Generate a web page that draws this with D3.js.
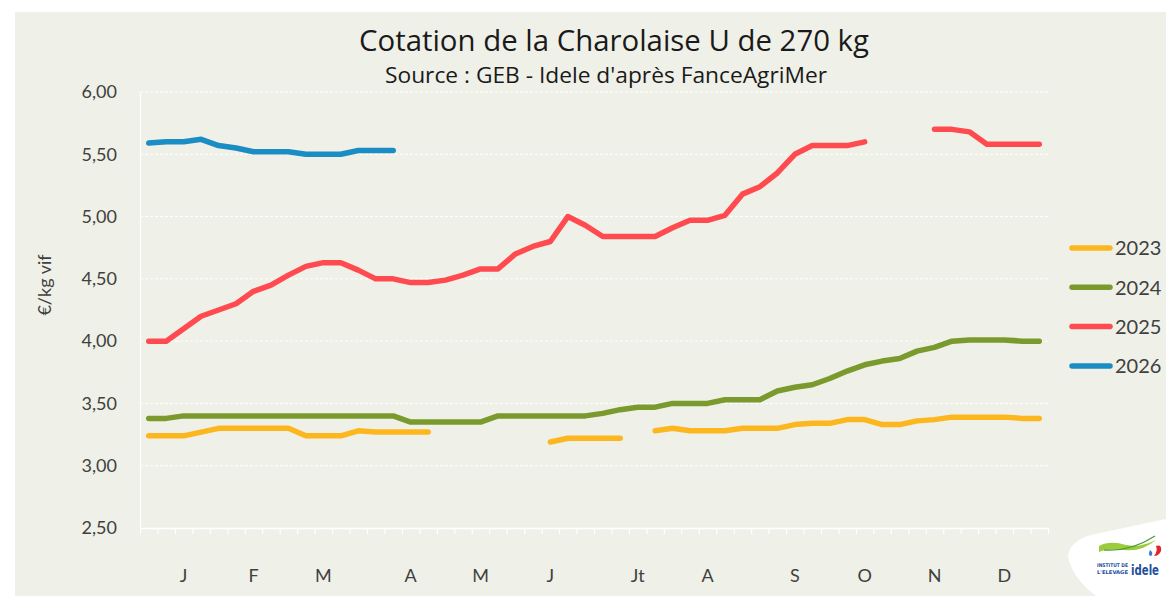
<!DOCTYPE html>
<html>
<head>
<meta charset="utf-8">
<script src="https://cdn.jsdelivr.net/npm/d3@7"></script>
<style>
  body { margin: 0; background: #fff; }
  svg { display: block; }
  .axis text { font-family: Lato, "Noto Sans", sans-serif; fill: #404040; }
</style>
</head>
<body>
<svg id="chart" width="1166" height="596"></svg>
<script>
// semaines 1 a 52
var weeks = d3.range(1, 53);

// libelles des mois, places sur une semaine
var monthWeeks = [3, 7, 11, 16, 20, 24, 29, 33, 38, 42, 46, 50];
var monthNames = ["J", "F", "M", "A", "M", "J", "Jt", "A", "S", "O", "N", "D"];

var yTicks = [2.5, 3, 3.5, 4, 4.5, 5, 5.5, 6];

var years = ["2023", "2024", "2025", "2026"];
var colors = ["#fdb71e", "#7b9a2d", "#ff4b50", "#1a8dc4"];

// cotations en euros/kg vif (null = pas de cotation)
var data2023 = [3.24, 3.24, 3.24, 3.27, 3.30, 3.30, 3.30, 3.30, 3.30, 3.24,
    3.24, 3.24, 3.28, 3.27, 3.27, 3.27, 3.27, null, null, null,
    null, null, null, 3.19, 3.22, 3.22, 3.22, 3.22, null, 3.28,
    3.30, 3.28, 3.28, 3.28, 3.30, 3.30, 3.30, 3.33, 3.34, 3.34,
    3.37, 3.37, 3.33, 3.33, 3.36, 3.37, 3.39, 3.39, 3.39, 3.39,
    3.38, 3.38];

var data2024 = [3.38, 3.38, 3.40, 3.40, 3.40, 3.40, 3.40, 3.40, 3.40, 3.40,
    3.40, 3.40, 3.40, 3.40, 3.40, 3.35, 3.35, 3.35, 3.35, 3.35,
    3.40, 3.40, 3.40, 3.40, 3.40, 3.40, 3.42, 3.45, 3.47, 3.47,
    3.50, 3.50, 3.50, 3.53, 3.53, 3.53, 3.60, 3.63, 3.65, 3.70,
    3.76, 3.81, 3.84, 3.86, 3.92, 3.95, 4.00, 4.01, 4.01, 4.01,
    4.00, 4.00];

var data2025 = [4.00, 4.00, 4.10, 4.20, 4.25, 4.30, 4.40, 4.45, 4.53, 4.60,
    4.63, 4.63, 4.57, 4.50, 4.50, 4.47, 4.47, 4.49, 4.53, 4.58,
    4.58, 4.70, 4.76, 4.80, 5.00, 4.93, 4.84, 4.84, 4.84, 4.84,
    4.91, 4.97, 4.97, 5.01, 5.18, 5.24, 5.35, 5.50, 5.57, 5.57,
    5.57, 5.60, null, null, null, 5.70, 5.70, 5.68, 5.58, 5.58,
    5.58, 5.58];

var data2026 = [5.59, 5.60, 5.60, 5.62, 5.57, 5.55, 5.52, 5.52, 5.52, 5.50,
    5.50, 5.50, 5.53, 5.53, 5.53];

var series = [data2023, data2024, data2025, data2026];

var margin = { top: 92, right: 118, bottom: 68, left: 140 };
var W = 1166, H = 596;
var width = W - margin.left - margin.right,
    height = H - margin.top - margin.bottom;

var svg = d3.select("#chart");

// fond
svg.append("rect")
    .attr("x", 15).attr("y", 12)
    .attr("width", W - 15).attr("height", H - 12)
    .attr("fill", "#eff0e7");

var x = d3.scaleBand()
    .domain(weeks)
    .range([0, width]);

var xEdge = d3.scaleLinear()
    .domain([0, weeks.length])
    .range([0, width]);

var y = d3.scaleLinear()
    .domain([2.5, 6])
    .range([height, 0]);

var chart = svg.append("g")
    .attr("transform", "translate(" + margin.left + "," + margin.top + ")");

// grille
chart.append("g")
    .selectAll("line")
    .data(yTicks.slice(1))
    .enter().append("line")
    .attr("x1", 0)
    .attr("x2", width)
    .attr("y1", function(d) { return y(d); })
    .attr("y2", function(d) { return y(d); })
    .attr("stroke", "#ffffff")
    .attr("stroke-width", 1)
    .attr("stroke-dasharray", "3,2");

// axe y
var yAxis = chart.append("g")
    .attr("class", "axis")
    .call(d3.axisLeft(y)
        .tickValues(yTicks)
        .tickSize(0)
        .tickSizeOuter(0)
        .tickPadding(23)
        .tickFormat(function(d) { return d3.format(".2f")(d).replace(".", ","); }));
yAxis.select(".domain").attr("stroke", "#ffffff").attr("stroke-width", 1.2);
yAxis.selectAll("text").style("font-size", "18px");

// graduations entre les semaines
var xTicks = chart.append("g")
    .attr("class", "axis")
    .attr("transform", "translate(0," + height + ")")
    .call(d3.axisBottom(xEdge)
        .tickValues(d3.range(weeks.length + 1))
        .tickSize(6)
        .tickSizeOuter(0)
        .tickFormat(""));
xTicks.select(".domain").attr("stroke", "#ffffff").attr("stroke-width", 1.5);
xTicks.selectAll(".tick line").attr("stroke", "#ffffff").attr("stroke-width", 1.2);

// mois
var xAxis = chart.append("g")
    .attr("class", "axis")
    .attr("transform", "translate(0," + height + ")")
    .call(d3.axisBottom(x)
        .tickValues(monthWeeks)
        .tickSize(0)
        .tickPadding(41)
        .tickFormat(function(d, i) { return monthNames[i]; }));
xAxis.select(".domain").remove();
xAxis.selectAll("text").style("font-size", "18px");

// courbes
var line = d3.line()
    .defined(function(d) { return d != null; })
    .x(function(d, i) { return x(weeks[i]) + x.bandwidth() / 2; })
    .y(function(d) { return y(d); });

chart.selectAll(".serie")
    .data(series)
    .enter().append("path")
    .attr("class", "serie")
    .attr("d", line)
    .attr("fill", "none")
    .attr("stroke", function(d, i) { return colors[i]; })
    .attr("stroke-width", 5.5)
    .attr("stroke-linecap", "round")
    .attr("stroke-linejoin", "round");

// titre (police etroite : on resserre le texte)
svg.append("text")
    .attr("x", 614)
    .attr("y", 51)
    .attr("text-anchor", "middle")
    .attr("textLength", 510)
    .attr("lengthAdjust", "spacingAndGlyphs")
    .style("font-family", "'Open Sans', sans-serif")
    .style("font-size", "29px")
    .style("fill", "#1a1a1a")
    .text("Cotation de la Charolaise U de 270 kg");

svg.append("text")
    .attr("x", 606)
    .attr("y", 83)
    .attr("text-anchor", "middle")
    .attr("textLength", 442)
    .attr("lengthAdjust", "spacingAndGlyphs")
    .style("font-family", "'Open Sans', sans-serif")
    .style("font-size", "22px")
    .style("fill", "#1a1a1a")
    .text("Source : GEB - Idele d'après FanceAgriMer");

// titre axe y
svg.append("text")
    .attr("transform", "translate(51,285) rotate(-90)")
    .attr("text-anchor", "middle")
    .style("font-family", "Lato, 'Noto Sans', sans-serif")
    .style("font-size", "18px")
    .style("fill", "#404040")
    .text("€/kg vif");

// legende
var legend = svg.append("g")
    .selectAll("g")
    .data(years)
    .enter().append("g")
    .attr("transform", function(d, i) { return "translate(1072," + (248 + i * 39.3) + ")"; });

legend.append("line")
    .attr("x1", 0).attr("x2", 38)
    .attr("stroke", function(d, i) { return colors[i]; })
    .attr("stroke-width", 5.5)
    .attr("stroke-linecap", "round");

legend.append("text")
    .attr("x", 43)
    .attr("dy", "0.36em")
    .style("font-family", "Lato, 'Noto Sans', sans-serif")
    .style("font-size", "20px")
    .style("fill", "#404040")
    .text(function(d) { return d; });

// logo idele
var logo = svg.append("g");
logo.append("path")
    .attr("d", "M1068,556 Q1070,538 1100,533 L1166,519 L1166,596 L1096,596 Q1072,578 1068,556 Z")
    .attr("fill", "#ffffff");
logo.append("path")
    .attr("d", "M1099,546 Q1110,540 1126,545 Q1140,548 1156,540 Q1142,552 1124,550 Q1108,548 1099,552 Z")
    .attr("fill", "#9ccb3b");
logo.append("path")
    .attr("d", "M1104,550 Q1130,552 1155,536")
    .attr("fill", "none")
    .attr("stroke", "#4a9a3a")
    .attr("stroke-width", 1.2);
logo.append("path")
    .attr("d", "M1156,546 Q1162,544 1161,551 Q1159,556 1154,556 Q1158,551 1156,546 Z")
    .attr("fill", "#e3262b");
logo.append("path")
    .attr("d", "M1150,550 Q1148,554 1150,556 Q1153,556 1152,552 Z")
    .attr("fill", "#3a7cc4");
logo.append("text")
    .attr("x", 1097).attr("y", 567)
    .attr("textLength", 31)
    .attr("lengthAdjust", "spacingAndGlyphs")
    .style("font-family", "'DejaVu Sans Condensed', sans-serif")
    .style("font-size", "5px")
    .style("font-weight", "bold")
    .style("fill", "#1e4f9c")
    .text("INSTITUT DE");
logo.append("text")
    .attr("x", 1097).attr("y", 573.5)
    .attr("textLength", 31)
    .attr("lengthAdjust", "spacingAndGlyphs")
    .style("font-family", "'DejaVu Sans Condensed', sans-serif")
    .style("font-size", "5px")
    .style("font-weight", "bold")
    .style("fill", "#1e4f9c")
    .text("L'ELEVAGE");
logo.append("text")
    .attr("x", 1131).attr("y", 575)
    .attr("textLength", 28)
    .attr("lengthAdjust", "spacingAndGlyphs")
    .style("font-family", "'DejaVu Sans Condensed', sans-serif")
    .style("font-size", "14px")
    .style("font-weight", "bold")
    .style("fill", "#1e4f9c")
    .text("idele");
</script>
</body>
</html>
